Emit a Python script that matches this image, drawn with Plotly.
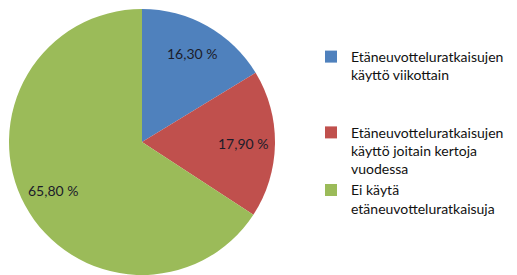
import math
import plotly.graph_objects as go

categories = [
    "Etäneuvotteluratkaisujen<br>käyttö viikottain<br> <br> ",
    "Etäneuvotteluratkaisujen<br>käyttö joitain kertoja<br>vuodessa",
    "Ei käytä<br>etäneuvotteluratkaisuja",
]
values = [16.3, 17.9, 65.8]
colors = ["#4F81BD", "#C0504D", "#9BBB59"]
labels_text = [f"{v:.2f}".replace(".", ",") + " %" for v in values]

W, H = 517, 275
# page body has an 8px margin; figure coordinates below are relative to the figure
cx, cy, R = 134, 134, 133  # pie centre and radius in figure pixels
label_r = 0.76

fig = go.Figure(
    go.Pie(
        labels=categories,
        values=values,
        textinfo="none",
        sort=False,
        direction="clockwise",
        rotation=0,
        marker=dict(colors=colors, line=dict(width=0)),
        domain=dict(x=[(cx - R) / W, (cx + R) / W], y=[1 - (cy + R) / H, 1 - (cy - R) / H]),
        hoverinfo="label+percent",
    )
)

total = sum(values)
cum = 0.0
for v, t in zip(values, labels_text):
    ang = (cum + v / 2) / total * 2 * math.pi
    cum += v
    px = cx + label_r * R * math.sin(ang)
    py = cy - label_r * R * math.cos(ang)
    fig.add_annotation(
        x=px / W, y=1 - py / H, xref="paper", yref="paper",
        xanchor="center", yanchor="middle",
        text=t, showarrow=False,
        font=dict(family="Lato", size=14, color="#1c1c2a"),
    )

fig.update_layout(
    width=W,
    height=H,
    margin=dict(l=0, r=0, t=0, b=0, autoexpand=False),
    paper_bgcolor="white",
    plot_bgcolor="white",
    showlegend=True,
    legend=dict(
        x=303 / W,
        y=1 - 33 / H,
        xanchor="left",
        yanchor="top",
        valign="top",
        font=dict(family="Lato", size=14, color="#111111"),
        itemwidth=30,
    ),
)
fig.write_html("out.html")
